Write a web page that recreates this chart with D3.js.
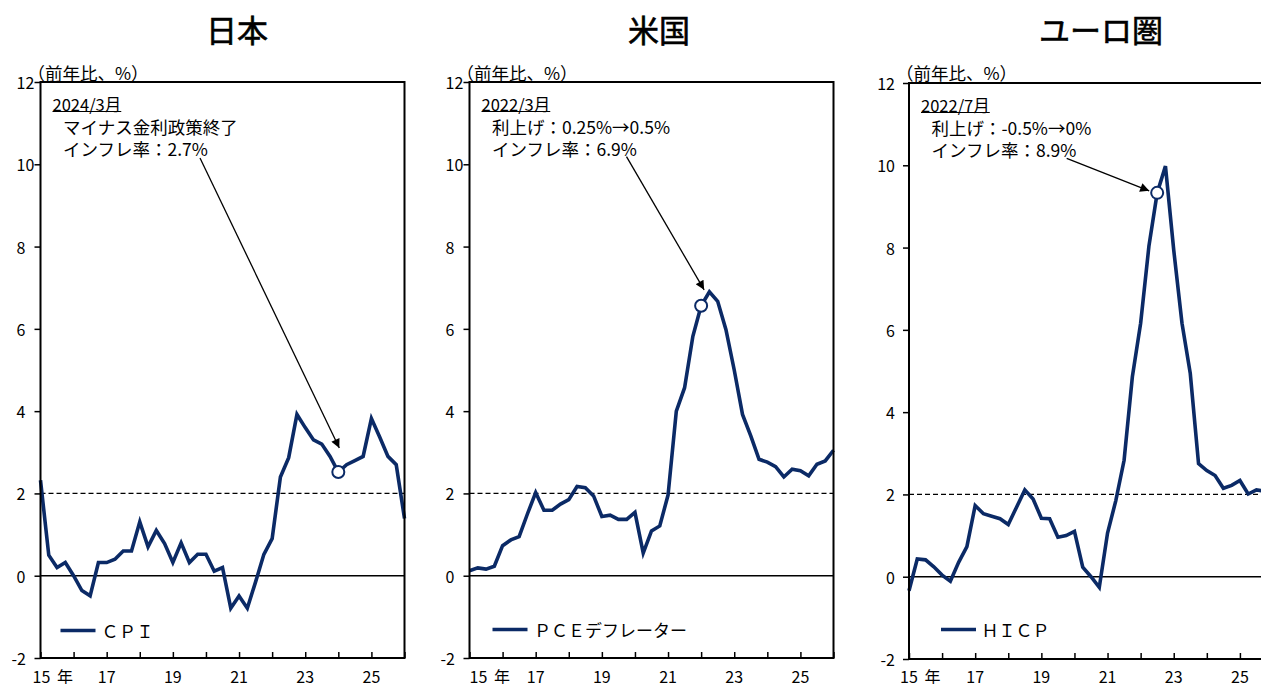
<!DOCTYPE html>
<html><head><meta charset="utf-8">
<script src="https://cdn.jsdelivr.net/npm/d3@7"></script>
<style>
body{margin:0;background:#fff}
svg{display:block}
text{font-family:"Noto Sans CJK JP","Noto Sans",sans-serif;fill:#000}
</style>
</head><body>
<svg id="c" width="1261" height="684"></svg>
<script>
// ---- data ----
const quarters = d3.range(45).map(i => 2015 + i / 4);
const yearTicks = d3.range(2015, 2027);
const xLabels = [[2015, "15"], [2017, "17"], [2019, "19"], [2021, "21"], [2023, "23"], [2025, "25"]];
const yTicks = [-2, 0, 2, 4, 6, 8, 10, 12];
const titles = ["日本", "米国", "ユーロ圏"];
const seriesNames = ["ＣＰＩ", "ＰＣＥデフレーター", "ＨＩＣＰ"];
const japanCPI = [2.32,0.50,0.20,0.32,0.00,-0.36,-0.49,0.32,0.32,0.40,0.60,0.60,1.31,0.70,1.10,0.78,0.32,0.80,0.32,0.52,0.52,0.11,0.20,-0.79,-0.49,-0.79,-0.15,0.52,0.90,2.40,2.87,3.92,3.60,3.30,3.20,2.90,2.52,2.70,2.80,2.90,3.82,3.37,2.90,2.70,1.39];
const usPCE = [0.12,0.19,0.16,0.23,0.73,0.87,0.95,1.50,2.02,1.59,1.59,1.74,1.85,2.17,2.14,1.94,1.44,1.47,1.37,1.37,1.54,0.55,1.09,1.21,1.96,4.00,4.57,5.82,6.56,6.90,6.67,5.98,5.00,3.92,3.40,2.83,2.76,2.65,2.40,2.59,2.55,2.43,2.71,2.79,3.05];
const euroHICP = [-0.34,0.43,0.41,0.24,0.04,-0.11,0.35,0.73,1.73,1.53,1.47,1.41,1.27,1.69,2.11,1.89,1.42,1.41,0.96,1.00,1.10,0.23,0.00,-0.26,1.06,1.85,2.83,4.86,6.16,8.03,9.33,9.98,7.94,6.16,4.94,2.75,2.58,2.46,2.15,2.22,2.34,2.01,2.11,2.08];
const markerIndex = [36, 28, 30];
const noteDates = ["2024/3月", "2022/3月", "2022/7月"];
const noteLine1 = ["マイナス金利政策終了", "利上げ：0.25%→0.5%", "利上げ：-0.5%→0%"];
const noteLine2 = ["インフレ率：2.7%", "インフレ率：6.9%", "インフレ率：8.9%"];
const target = 2;
const unitLabel = "（前年比、%）";

// ---- layout ----
const W = 364, H = 576;
const NAVY = "#0b2a66";
const layout = [
  {left: 40.5, top: 82, titleX: 237, yAlign: "start", firstLab: -8, legX: 20, legT: 61, legY: 630.5, legLS: 0.5, arrowStart: [159.5, 76], tipOff: [1, -24]},
  {left: 469.5, top: 82, titleX: 659, yAlign: "start", firstLab: 0, legX: 23, legT: 64.5, legY: 629.5, legLS: 0, arrowStart: [157, 74.7], tipOff: [3, -16]},
  {left: 909, top: 83, titleX: 1101, yAlign: "end", firstLab: -9, legX: 32, legT: 72.5, legY: 629.5, legLS: 0, arrowStart: [157.7, 75.3], tipOff: [-8, -2]}
];
const data = [japanCPI, usPCE, euroHICP];

const svg = d3.select("#c");
svg.append("defs").append("marker")
  .attr("id", "ah").attr("viewBox", "0 0 10 10").attr("refX", 10).attr("refY", 5)
  .attr("markerWidth", 11).attr("markerHeight", 9).attr("markerUnits", "userSpaceOnUse")
  .attr("orient", "auto")
  .append("path").attr("d", "M0,0L10,5L0,10Z").attr("fill", "#000");

layout.forEach((p, k) => {
  const x = d3.scaleLinear().domain([2015, 2026]).range([p.left, p.left + W]);
  const y = d3.scaleLinear().domain([-2, 12]).range([p.top + H, p.top]);
  const g = svg.append("g");

  g.append("text").attr("x", p.titleX).attr("y", 28).attr("text-anchor", "middle")
    .attr("dominant-baseline", "central").style("font-size", "31px").style("font-weight", 400)
    .style("stroke", "#000").style("stroke-width", 0.6)
    .text(titles[k]);

  g.append("text").attr("x", p.left - 13).attr("y", 72).attr("dominant-baseline", "central")
    .style("font-size", "17.5px").text(unitLabel);

  // target line
  g.append("line").attr("x1", x(2015)).attr("x2", x(2026)).attr("y1", y(target)).attr("y2", y(target))
    .attr("stroke", "#000").attr("stroke-width", 1.3).attr("stroke-dasharray", "5,3");
  // zero line
  g.append("line").attr("x1", x(2015)).attr("x2", x(2026)).attr("y1", y(0)).attr("y2", y(0))
    .attr("stroke", "#000").attr("stroke-width", 1.6);

  // series
  const line = d3.line().x((d, i) => x(quarters[i])).y(d => y(d));
  g.append("path").datum(data[k]).attr("d", line).attr("fill", "none")
    .attr("stroke", NAVY).attr("stroke-width", 3.6).attr("stroke-linejoin", "miter");

  // frame
  g.append("rect").attr("x", p.left).attr("y", p.top).attr("width", W).attr("height", H)
    .attr("fill", "none").attr("stroke", "#000").attr("stroke-width", 2);

  // y axis ticks
  const ya = g.append("g").attr("transform", `translate(${p.left},0)`)
    .call(d3.axisLeft(y).tickValues(yTicks).tickSize(6).tickFormat(""));
  ya.select(".domain").remove();
  ya.selectAll("line").attr("stroke", "#000").attr("stroke-width", 1.5);
  yTicks.forEach(v => {
    let tx, anchor;
    if (p.yAlign === "end") { tx = p.left - 14; anchor = "end"; }
    else { tx = v < 0 ? p.left - 29 : p.left - 24; anchor = "start"; }
    g.append("text").attr("x", tx).attr("y", y(v)).attr("text-anchor", anchor)
      .attr("dominant-baseline", "central").style("font-size", "16px").text(v);
  });

  // x axis ticks (inward)
  const xa = g.append("g").attr("transform", `translate(0,${p.top + H})`)
    .call(d3.axisBottom(x).tickValues(yearTicks).tickSizeInner(-6).tickSizeOuter(0).tickFormat(""));
  xa.select(".domain").remove();
  xa.selectAll("line").attr("stroke", "#000").attr("stroke-width", 1.5);
  xLabels.forEach(([yr, lab]) => {
    const t = g.append("text").attr("y", 676).attr("dominant-baseline", "central").style("font-size", "16px");
    if (yr === 2015) {
      t.attr("x", x(yr) + p.firstLab).attr("text-anchor", "start").text(lab + "\u2009 年");
    } else {
      t.attr("x", x(yr)).attr("text-anchor", "middle").text(lab);
    }
  });

  // legend
  g.append("line").attr("x1", p.left + p.legX).attr("x2", p.left + p.legX + 35)
    .attr("y1", p.legY).attr("y2", p.legY).attr("stroke", NAVY).attr("stroke-width", 3.6);
  g.append("text").attr("x", p.left + p.legT).attr("y", p.legY).attr("dominant-baseline", "central")
    .style("font-size", "17px").style("letter-spacing", p.legLS + "px").text(seriesNames[k]);

  // annotation
  const dt = g.append("text").attr("x", p.left + 12).attr("y", p.top + 21.5).attr("dominant-baseline", "central")
    .style("font-size", "16.5px").text(noteDates[k]);
  const dl = dt.node().getComputedTextLength();
  g.append("line").attr("x1", p.left + 12).attr("x2", p.left + 12 + dl)
    .attr("y1", p.top + 29.5).attr("y2", p.top + 29.5).attr("stroke", "#000").attr("stroke-width", 1);
  g.append("text").attr("x", p.left + 22.5).attr("y", p.top + 44.7).attr("dominant-baseline", "central")
    .style("font-size", "17.5px").text(noteLine1[k]);
  g.append("text").attr("x", p.left + 22.5).attr("y", p.top + 66.3).attr("dominant-baseline", "central")
    .style("font-size", "17.5px").text(noteLine2[k]);

  const mi = markerIndex[k];
  const mx = x(quarters[mi]), my = y(data[k][mi]);
  g.append("line").attr("x1", p.left + p.arrowStart[0]).attr("y1", p.top + p.arrowStart[1])
    .attr("x2", mx + p.tipOff[0]).attr("y2", my + p.tipOff[1])
    .attr("stroke", "#000").attr("stroke-width", 1.3).attr("marker-end", "url(#ah)");
  g.append("circle").attr("cx", mx).attr("cy", my).attr("r", 6)
    .attr("fill", "#fff").attr("stroke", NAVY).attr("stroke-width", 2);
});
</script>
</body></html>
